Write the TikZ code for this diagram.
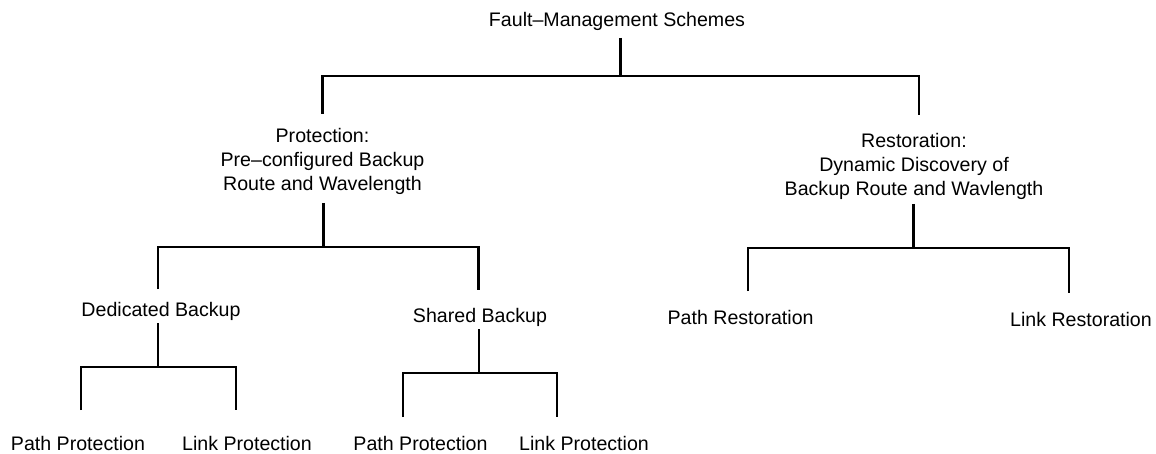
\documentclass[tikz,border=0pt]{standalone}
\usepackage{fontspec}
\setmainfont{Liberation Sans}
\begin{document}
\begin{tikzpicture}[x=0.5pt,y=-0.5pt,
  lbl/.style={inner sep=0pt, font=\fontsize{9.8pt}{12pt}\selectfont, align=center},
  conn/.style={line width=1.1pt, line join=miter}]
\useasboundingbox (0,0) rectangle (1156,454);
% labels
\node[lbl] (fms)  at (617,21.7)  {Fault–Management Schemes};
\node[lbl] (prot) at (322.5,161) {Protection:\\Pre–configured Backup\\Route and Wavelength};
\node[lbl] (rest) at (914,166)   {Restoration:\\Dynamic Discovery of\\Backup Route and Wavlength};
\node[lbl] (ded)  at (161,311)   {Dedicated Backup};
\node[lbl] (sh)   at (480,317)   {Shared Backup};
\node[lbl] (pp1)  at (78,443)    {Path Protection};
\node[lbl] (lp1)  at (247,443)   {Link Protection};
\node[lbl] (pp2)  at (420.5,443) {Path Protection};
\node[lbl] (lp2)  at (584,443)   {Link Protection};
\node[lbl] (pr)   at (740.6,317) {Path Restoration};
\node[lbl] (lr)   at (1081,319)  {Link Restoration};
% connector end points
\coordinate (fmsB)  at (620.5,38);
\coordinate (fmsJ)  at (620.5,76);
\coordinate (protT) at (322.5,114);
\coordinate (restT) at (919,115);
\coordinate (protB) at (323.5,203);
\coordinate (protJ) at (323.5,247);
\coordinate (dedT)  at (158,289);
\coordinate (shT)   at (478.5,290);
\coordinate (dedB)  at (158.3,323);
\coordinate (dedJ)  at (158.3,367);
\coordinate (pp1T)  at (81,410);
\coordinate (lp1T)  at (236,410);
\coordinate (shB)   at (479,329);
\coordinate (shJ)   at (479,373);
\coordinate (pp2T)  at (402.7,417);
\coordinate (lp2T)  at (557,417);
\coordinate (restB) at (913.5,204);
\coordinate (restJ) at (913.5,248);
\coordinate (prT)   at (748.3,291);
\coordinate (lrT)   at (1069.3,293);
% connectors
\draw[conn] (fmsB) -- (fmsJ);
\draw[conn] (protT) |- (fmsJ) -| (restT);
\draw[conn] (protB) -- (protJ);
\draw[conn] (dedT) |- (protJ) -| (shT);
\draw[conn] (dedB) -- (dedJ);
\draw[conn] (pp1T) |- (dedJ) -| (lp1T);
\draw[conn] (shB) -- (shJ);
\draw[conn] (pp2T) |- (shJ) -| (lp2T);
\draw[conn] (restB) -- (restJ);
\draw[conn] (prT) |- (restJ) -| (lrT);
\end{tikzpicture}
\end{document}
